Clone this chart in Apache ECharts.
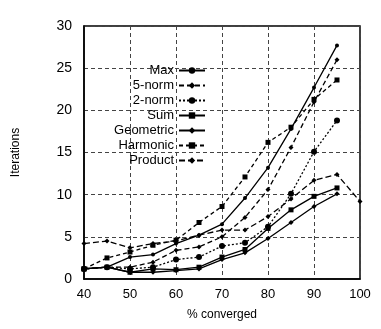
<!DOCTYPE html>
<html><head><meta charset="utf-8">
<script src="https://cdn.jsdelivr.net/npm/echarts@6/dist/echarts.min.js"></script>
<style>html,body{margin:0;padding:0;background:#fff}#c{width:381px;height:329px}</style>
</head><body><div id="c"></div>
<script>
const xValues = [40, 45, 50, 55, 60, 65, 70, 75, 80, 85, 90, 95, 100];
const maxVals       = [1.2, 1.4, 2.6, 2.9, 4.2, 5.2, 6.5, 9.6, 13.2, 17.8, 22.7, 27.7, null];
const norm5Vals     = [1.2, 1.4, 1.4, 2.0, 3.4, 3.8, 5.0, 7.3, 10.6, 15.6, 21.0, 26.0, null];
const norm2Vals     = [1.2, 1.4, 1.2, 1.4, 2.3, 2.6, 3.9, 4.3, 6.2, 10.1, 15.1, 18.8, null];
const sumVals       = [1.2, 1.4, 0.8, 1.2, 1.1, 1.4, 2.6, 3.5, 6.0, 8.2, 9.8, 10.8, null];
const geometricVals = [1.2, 1.4, 0.8, 0.8, 1.0, 1.2, 2.3, 3.1, 4.8, 6.7, 8.6, 10.1, null];
const harmonicVals  = [1.2, 2.5, 3.2, 4.0, 4.6, 6.7, 8.6, 12.1, 16.2, 18.0, 21.3, 23.6, null];
const productVals   = [4.2, 4.5, 3.7, 4.2, 4.5, 5.2, 5.8, 5.8, 7.4, 9.5, 11.7, 12.4, 9.2];
const seriesNames = ['Max', '5-norm', '2-norm', 'Sum', 'Geometric', 'Harmonic', 'Product'];
const yTicks = [0, 5, 10, 15, 20, 25, 30];

const styles = {
  'Max':       {type: 'solid',  symbol: 'circle',  size: 4},
  '5-norm':    {type: [5, 3],   symbol: 'diamond', size: 5},
  '2-norm':    {type: [2, 2],   symbol: 'circle',  size: 6},
  'Sum':       {type: 'solid',  symbol: 'rect',    size: 5},
  'Geometric': {type: 'solid',  symbol: 'diamond', size: 5},
  'Harmonic':  {type: [4, 3],   symbol: 'rect',    size: 5},
  'Product':   {type: [6, 3],   symbol: 'diamond', size: 5}
};
const valueSets = [maxVals, norm5Vals, norm2Vals, sumVals, geometricVals, harmonicVals, productVals];

const font = 'Liberation Sans, Arial, sans-serif';
const chart = echarts.init(document.getElementById('c'), null, {renderer: 'canvas'});
chart.setOption({
  animation: false,
  backgroundColor: '#fff',
  grid: {left: 84, right: 21, top: 26, bottom: 50, show: true, borderColor: '#000', borderWidth: 1.5},
  legend: {
    orient: 'vertical', left: 108, top: 63, align: 'right',
    itemWidth: 26, itemHeight: 8, itemGap: 0, padding: 0,
    textStyle: {fontFamily: font, fontSize: 13, color: '#000', width: 66, align: 'right', lineHeight: 15},
    data: seriesNames
  },
  xAxis: {
    type: 'value', min: 40, max: 100, interval: 10,
    name: '% converged', nameLocation: 'middle', nameGap: 30,
    nameTextStyle: {fontFamily: font, fontSize: 12, color: '#000'},
    axisLine: {lineStyle: {color: '#000', width: 1.5}},
    axisTick: {show: false},
    axisLabel: {fontFamily: font, fontSize: 13, color: '#000', margin: 9},
    splitLine: {show: true, lineStyle: {color: '#444', type: [4, 3], width: 1}}
  },
  yAxis: {
    type: 'value', min: 0, max: 30, interval: 5,
    name: 'Iterations', nameLocation: 'middle', nameGap: 62,
    nameTextStyle: {fontFamily: font, fontSize: 12, color: '#000'},
    axisLine: {lineStyle: {color: '#000', width: 1.5}},
    axisTick: {show: false},
    axisLabel: {fontFamily: font, fontSize: 14, color: '#000', margin: 12,
      formatter: v => yTicks.includes(v) ? String(v) : ''},
    splitLine: {show: true, lineStyle: {color: '#444', type: [4, 3], width: 1}}
  },
  series: seriesNames.map((n, i) => ({
    name: n, type: 'line',
    data: xValues.map((x, j) => [x, valueSets[i][j]]).filter(p => p[1] != null),
    symbol: styles[n].symbol, symbolSize: styles[n].size,
    itemStyle: {color: '#000'},
    lineStyle: {color: '#000', width: 1.3, type: styles[n].type}
  }))
});
</script></body></html>
